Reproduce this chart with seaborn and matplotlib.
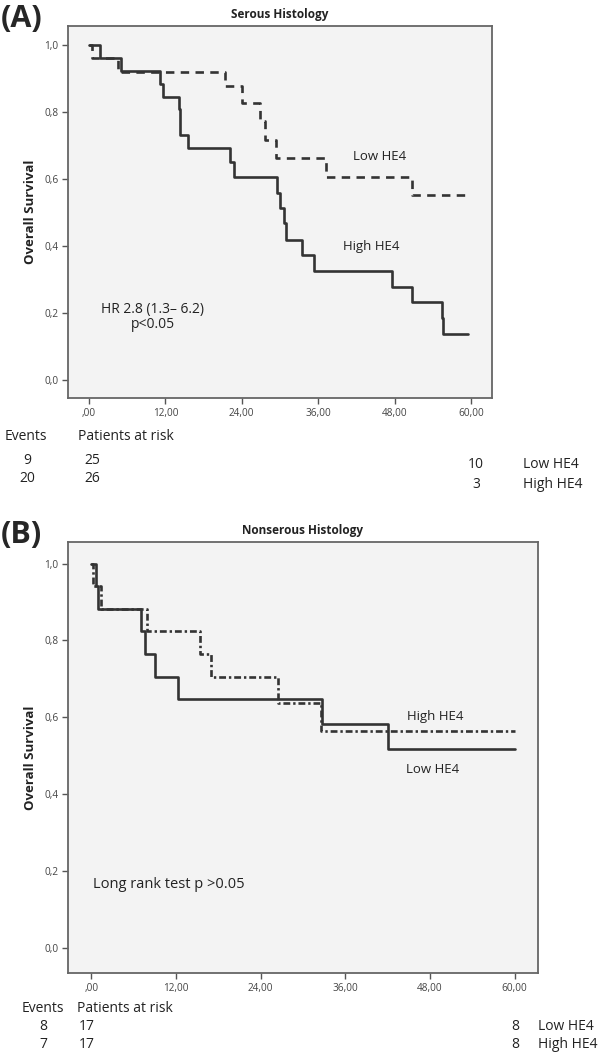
import numpy as np
import pandas as pd
import seaborn as sns
import matplotlib
matplotlib.use("Agg")
import matplotlib.pyplot as plt

# Kaplan-Meier steps (months, survival)
a_low_t = [0, 0.4, 4.5, 21.3, 24.1, 26.8, 27.7, 29.4, 37.2, 50.8, 59.3]
a_low_s = [1.0, 0.96, 0.92, 0.878, 0.828, 0.772, 0.716, 0.662, 0.607, 0.552, 0.552]

a_high_t = [0, 1.7, 5.0, 11.1, 11.6, 14.1, 14.3, 15.5, 22.2, 22.7, 29.6, 30.0,
            30.6, 31.0, 33.4, 35.4, 47.6, 50.7, 55.5, 55.6, 59.6]
a_high_s = [1.0, 0.962, 0.923, 0.885, 0.846, 0.808, 0.731, 0.692, 0.650, 0.607,
            0.559, 0.513, 0.468, 0.418, 0.373, 0.325, 0.279, 0.232, 0.185, 0.137, 0.137]

b_low_t = [0, 0.7, 0.9, 7.1, 7.55, 9.0, 12.3, 32.7, 42.0, 60.0]
b_low_s = [1.0, 0.941, 0.882, 0.824, 0.765, 0.706, 0.647, 0.583, 0.518, 0.518]

b_high_t = [0, 0.2, 1.4, 7.9, 15.4, 16.9, 26.4, 32.5, 60.0]
b_high_s = [1.0, 0.941, 0.882, 0.824, 0.765, 0.706, 0.636, 0.565, 0.565]

x_ticks = [0, 12, 24, 36, 48, 60]
x_labels = [",00", "12,00", "24,00", "36,00", "48,00", "60,00"]
y_ticks = [0.0, 0.2, 0.4, 0.6, 0.8, 1.0]
y_labels = ["0,0", "0,2", "0,4", "0,6", "0,8", "1,0"]

# risk tables
a_events = [9, 20]
a_start = [25, 26]
a_end = [10, 3]
b_events = [8, 7]
b_start = [17, 17]
b_end = [8, 8]
groups = ["Low HE4", "High HE4"]

sns.set_theme(style="white")
plt.rcParams["font.family"] = ["Open Sans", "DejaVu Sans"]

W, H = 600, 1055
fig = plt.figure(figsize=(6, 10.55), dpi=100)
TXT = 10


def px(x, y):
    return x / W, 1 - y / H


def make_df(low_t, low_s, high_t, high_s):
    d1 = pd.DataFrame({"t": low_t, "s": low_s, "group": "Low HE4"})
    d2 = pd.DataFrame({"t": high_t, "s": high_s, "group": "High HE4"})
    return pd.concat([d1, d2], ignore_index=True)


def style_axes(ax, ylim):
    ax.set_facecolor("#f3f3f3")
    ax.set_xlim(-3.3, 63.3)
    ax.set_ylim(*ylim)
    ax.set_xticks(x_ticks)
    ax.set_xticklabels(x_labels, fontsize=7.2, color="#444")
    ax.set_yticks(y_ticks)
    ax.set_yticklabels(y_labels, fontsize=7.2, color="#444")
    ax.tick_params(axis="both", direction="out", length=4, width=1, color="#555",
                   bottom=True, left=True, pad=3)
    for sp in ax.spines.values():
        sp.set_color("#666")
        sp.set_linewidth(1.3)
    ax.set_xlabel("")
    ax.set_ylabel("Overall Survival", fontsize=9.5, fontweight="bold", color="#222",
                  labelpad=5)
    leg = ax.get_legend()
    if leg is not None:
        leg.remove()


# ---- Panel A
l, b = px(68, 398)
r, t = px(492, 26)
ax1 = fig.add_axes([l, b, r - l, t - b])
dfa = make_df(a_low_t, a_low_s, a_high_t, a_high_s)
sns.lineplot(data=dfa, x="t", y="s", hue="group", style="group",
             palette={"Low HE4": "#333333", "High HE4": "#333333"},
             dashes={"Low HE4": (3.2, 2.4), "High HE4": ""},
             estimator=None, sort=False, drawstyle="steps-post",
             linewidth=1.9, ax=ax1)
style_axes(ax1, (-0.054, 1.057))
ax1.set_title("Serous Histology", fontsize=8.5, fontweight="bold", color="#222", pad=6)
ax1.text(45.6, 0.666, "Low HE4", fontsize=9.5, ha="center", va="center", color="#222")
ax1.text(44.4, 0.398, "High HE4", fontsize=9.5, ha="center", va="center", color="#222")
ax1.text(10.0, 0.209, "HR 2.8 (1.3\u2013 6.2)", fontsize=10, ha="center", va="center", color="#222")
ax1.text(10.0, 0.167, "p<0.05", fontsize=10, ha="center", va="center", color="#222")

fig.text(*px(1, 19), "(A)", fontsize=22, fontweight="bold", va="center", ha="left")
fig.text(*px(5, 437), "Events", fontsize=TXT, va="center", color="#222")
fig.text(*px(78, 437), "Patients at risk", fontsize=TXT, va="center", color="#222")
for i, yy in enumerate([461, 479]):
    fig.text(*px(27, yy), str(a_events[i]), fontsize=TXT, va="center", ha="center", color="#222")
    fig.text(*px(84, yy), str(a_start[i]), fontsize=TXT, va="center", ha="left", color="#222")
for i, yy in enumerate([464, 484]):
    fig.text(*px(476, yy), str(a_end[i]), fontsize=TXT, va="center", ha="center", color="#222")
    fig.text(*px(523, yy), groups[i], fontsize=TXT, va="center", ha="left", color="#222")

# ---- Panel B
l, b = px(68, 973)
r, t = px(538, 542)
ax2 = fig.add_axes([l, b, r - l, t - b])
dfb = make_df(b_low_t, b_low_s, b_high_t, b_high_s)
sns.lineplot(data=dfb, x="t", y="s", hue="group", style="group",
             palette={"Low HE4": "#333333", "High HE4": "#333333"},
             dashes={"Low HE4": "", "High HE4": (2.6, 1.1, 0.9, 1.1)},
             estimator=None, sort=False, drawstyle="steps-post",
             linewidth=1.9, ax=ax2)
style_axes(ax2, (-0.065, 1.056))
ax2.set_title("Nonserous Histology", fontsize=8.5, fontweight="bold", color="#222", pad=6)
ax2.text(48.8, 0.603, "High HE4", fontsize=9.5, ha="center", va="center", color="#222")
ax2.text(48.4, 0.463, "Low HE4", fontsize=9.5, ha="center", va="center", color="#222")
ax2.text(0.2, 0.164, "Long rank test p >0.05", fontsize=10.5, ha="left", va="center", color="#222")

fig.text(*px(1, 535), "(B)", fontsize=22, fontweight="bold", va="center", ha="left")
fig.text(*px(22, 1008), "Events", fontsize=TXT, va="center", color="#222")
fig.text(*px(77, 1008), "Patients at risk", fontsize=TXT, va="center", color="#222")
for i, yy in enumerate([1027, 1045]):
    fig.text(*px(43, yy), str(b_events[i]), fontsize=TXT, va="center", ha="center", color="#222")
    fig.text(*px(79, yy), str(b_start[i]), fontsize=TXT, va="center", ha="left", color="#222")
    fig.text(*px(515, yy), str(b_end[i]), fontsize=TXT, va="center", ha="center", color="#222")
    fig.text(*px(538, yy), groups[i], fontsize=TXT, va="center", ha="left", color="#222")

fig.savefig("out.png", dpi=100, facecolor="white")
